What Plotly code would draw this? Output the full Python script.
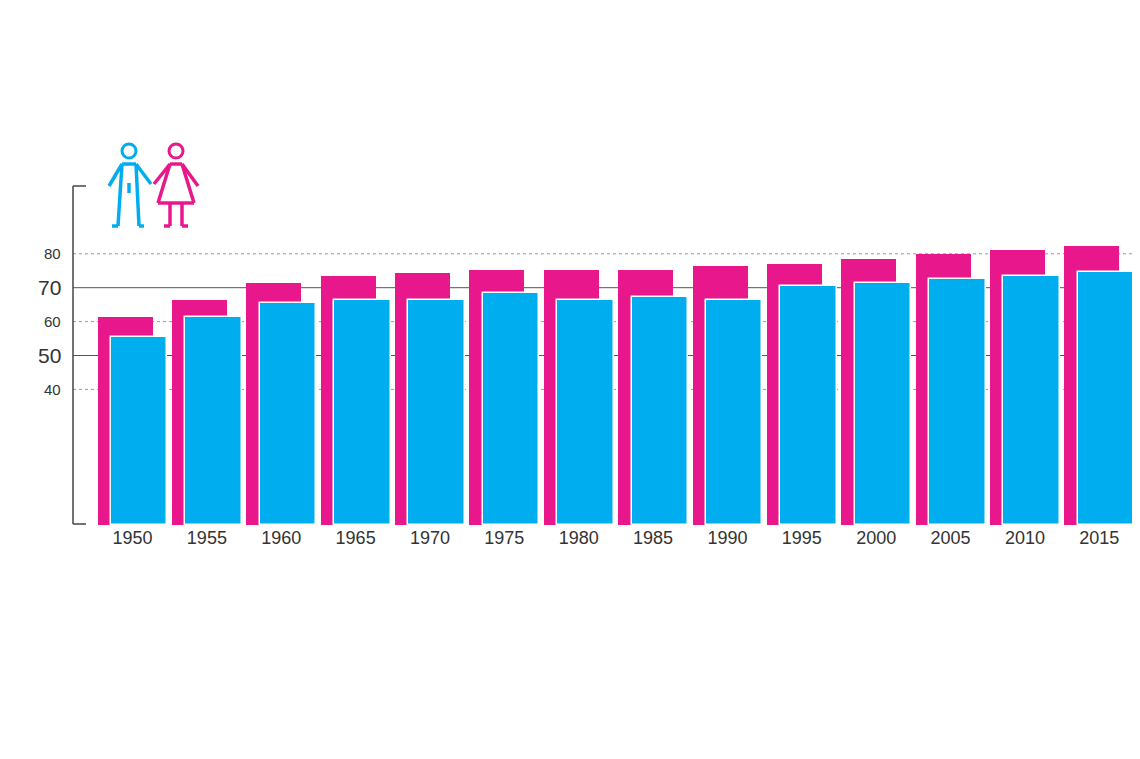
import plotly.graph_objects as go

years = [1950,1955,1960,1965,1970,1975,1980,1985,1990,1995,2000,2005,2010,2015]
female = [61.5,66.5,71.5,73.5,74.4,75.3,75.3,75.3,76.5,77.0,78.5,80.0,81.0,82.4]
male = [55.6,61.5,65.6,66.5,66.5,68.5,66.5,67.4,66.5,70.6,71.5,72.6,73.5,74.7]
ytick_vals = [80,70,60,50,40]
ytick_sizes = [15,21,15,21,15]
grid_dash = ["dot","solid","dot","solid","dot"]

PINK = "#e8188c"; BLUE = "#00aeef"
fig = go.Figure()
fig.add_bar(x=years, y=female, width=3.7, offset=-2.35, marker=dict(color=PINK, line=dict(width=0)))
fig.add_bar(x=years, y=male, width=3.8, offset=-1.45, marker=dict(color=BLUE, line=dict(color="white", width=1.5)))

L, T, W, H = 65, 178, 1065, 339
def px(x): return (x - L) / W
def py(y): return (T + H - y) / H

shapes = []
for v, d in zip(ytick_vals, grid_dash):
    shapes.append(dict(type="line", xref="paper", yref="y", x0=0, x1=1, y0=v, y1=v, layer="below",
                       line=dict(color="#555" if d == "solid" else "#999", width=1, dash=d)))
# axis bracket
for seg in [((65,178),(65,516)),((65,178),(78,178)),((65,516),(78,516))]:
    (a,b),(c,d) = seg
    shapes.append(dict(type="line", xref="paper", yref="paper", x0=px(a), y0=py(b), x1=px(c), y1=py(d), line=dict(color="#444", width=1.5)))
def line(a,b,c,d,col):
    shapes.append(dict(type="line", xref="paper", yref="paper", x0=px(a), y0=py(b), x1=px(c), y1=py(d), line=dict(color=col, width=3.5)))
def circ(cx,cy,r,col):
    shapes.append(dict(type="circle", xref="paper", yref="paper", x0=px(cx-r), x1=px(cx+r), y0=py(cy+r), y1=py(cy-r), line=dict(color=col, width=3)))
# man
circ(121,143,7,BLUE)
line(114,156,128,156,BLUE); line(114,156,101,178,BLUE); line(128,156,143,176,BLUE)
line(114,156,110,218,BLUE); line(128,156,131,218,BLUE); line(121,185,121,175,BLUE)
line(110,218,104,218,BLUE); line(131,218,136,218,BLUE)
# woman
circ(168,143,7,PINK)
line(162,156,174,156,PINK); line(162,156,146,176,PINK); line(174,156,190,178,PINK)
line(162,156,150,195,PINK); line(174,156,186,195,PINK); line(150,195,186,195,PINK)
line(162,195,162,218,PINK); line(174,195,174,218,PINK)
line(162,218,156,218,PINK); line(174,218,180,218,PINK)

ann = [dict(x=px(55), y=v, xref="paper", yref="y", text=str(v), showarrow=False, xanchor="right",
            font=dict(size=s, color="#333", family="Liberation Sans")) for v, s in zip(ytick_vals, ytick_sizes)]

fig.update_layout(width=1140, height=759, margin=dict(l=L, r=1140-L-W, t=T, b=759-T-H),
                  paper_bgcolor="white", plot_bgcolor="white", showlegend=False, barmode="overlay",
                  shapes=shapes, annotations=ann, bargap=0,
                  xaxis=dict(range=[1946, 2017.6], tickvals=years, ticktext=[str(y) for y in years], showgrid=False,
                             zeroline=False, showline=False, ticks="", tickfont=dict(size=18, color="#333", family="Liberation Sans")),
                  yaxis=dict(range=[0, 100], showgrid=False, zeroline=False, showticklabels=False, showline=False))
fig.write_html("out.html")
